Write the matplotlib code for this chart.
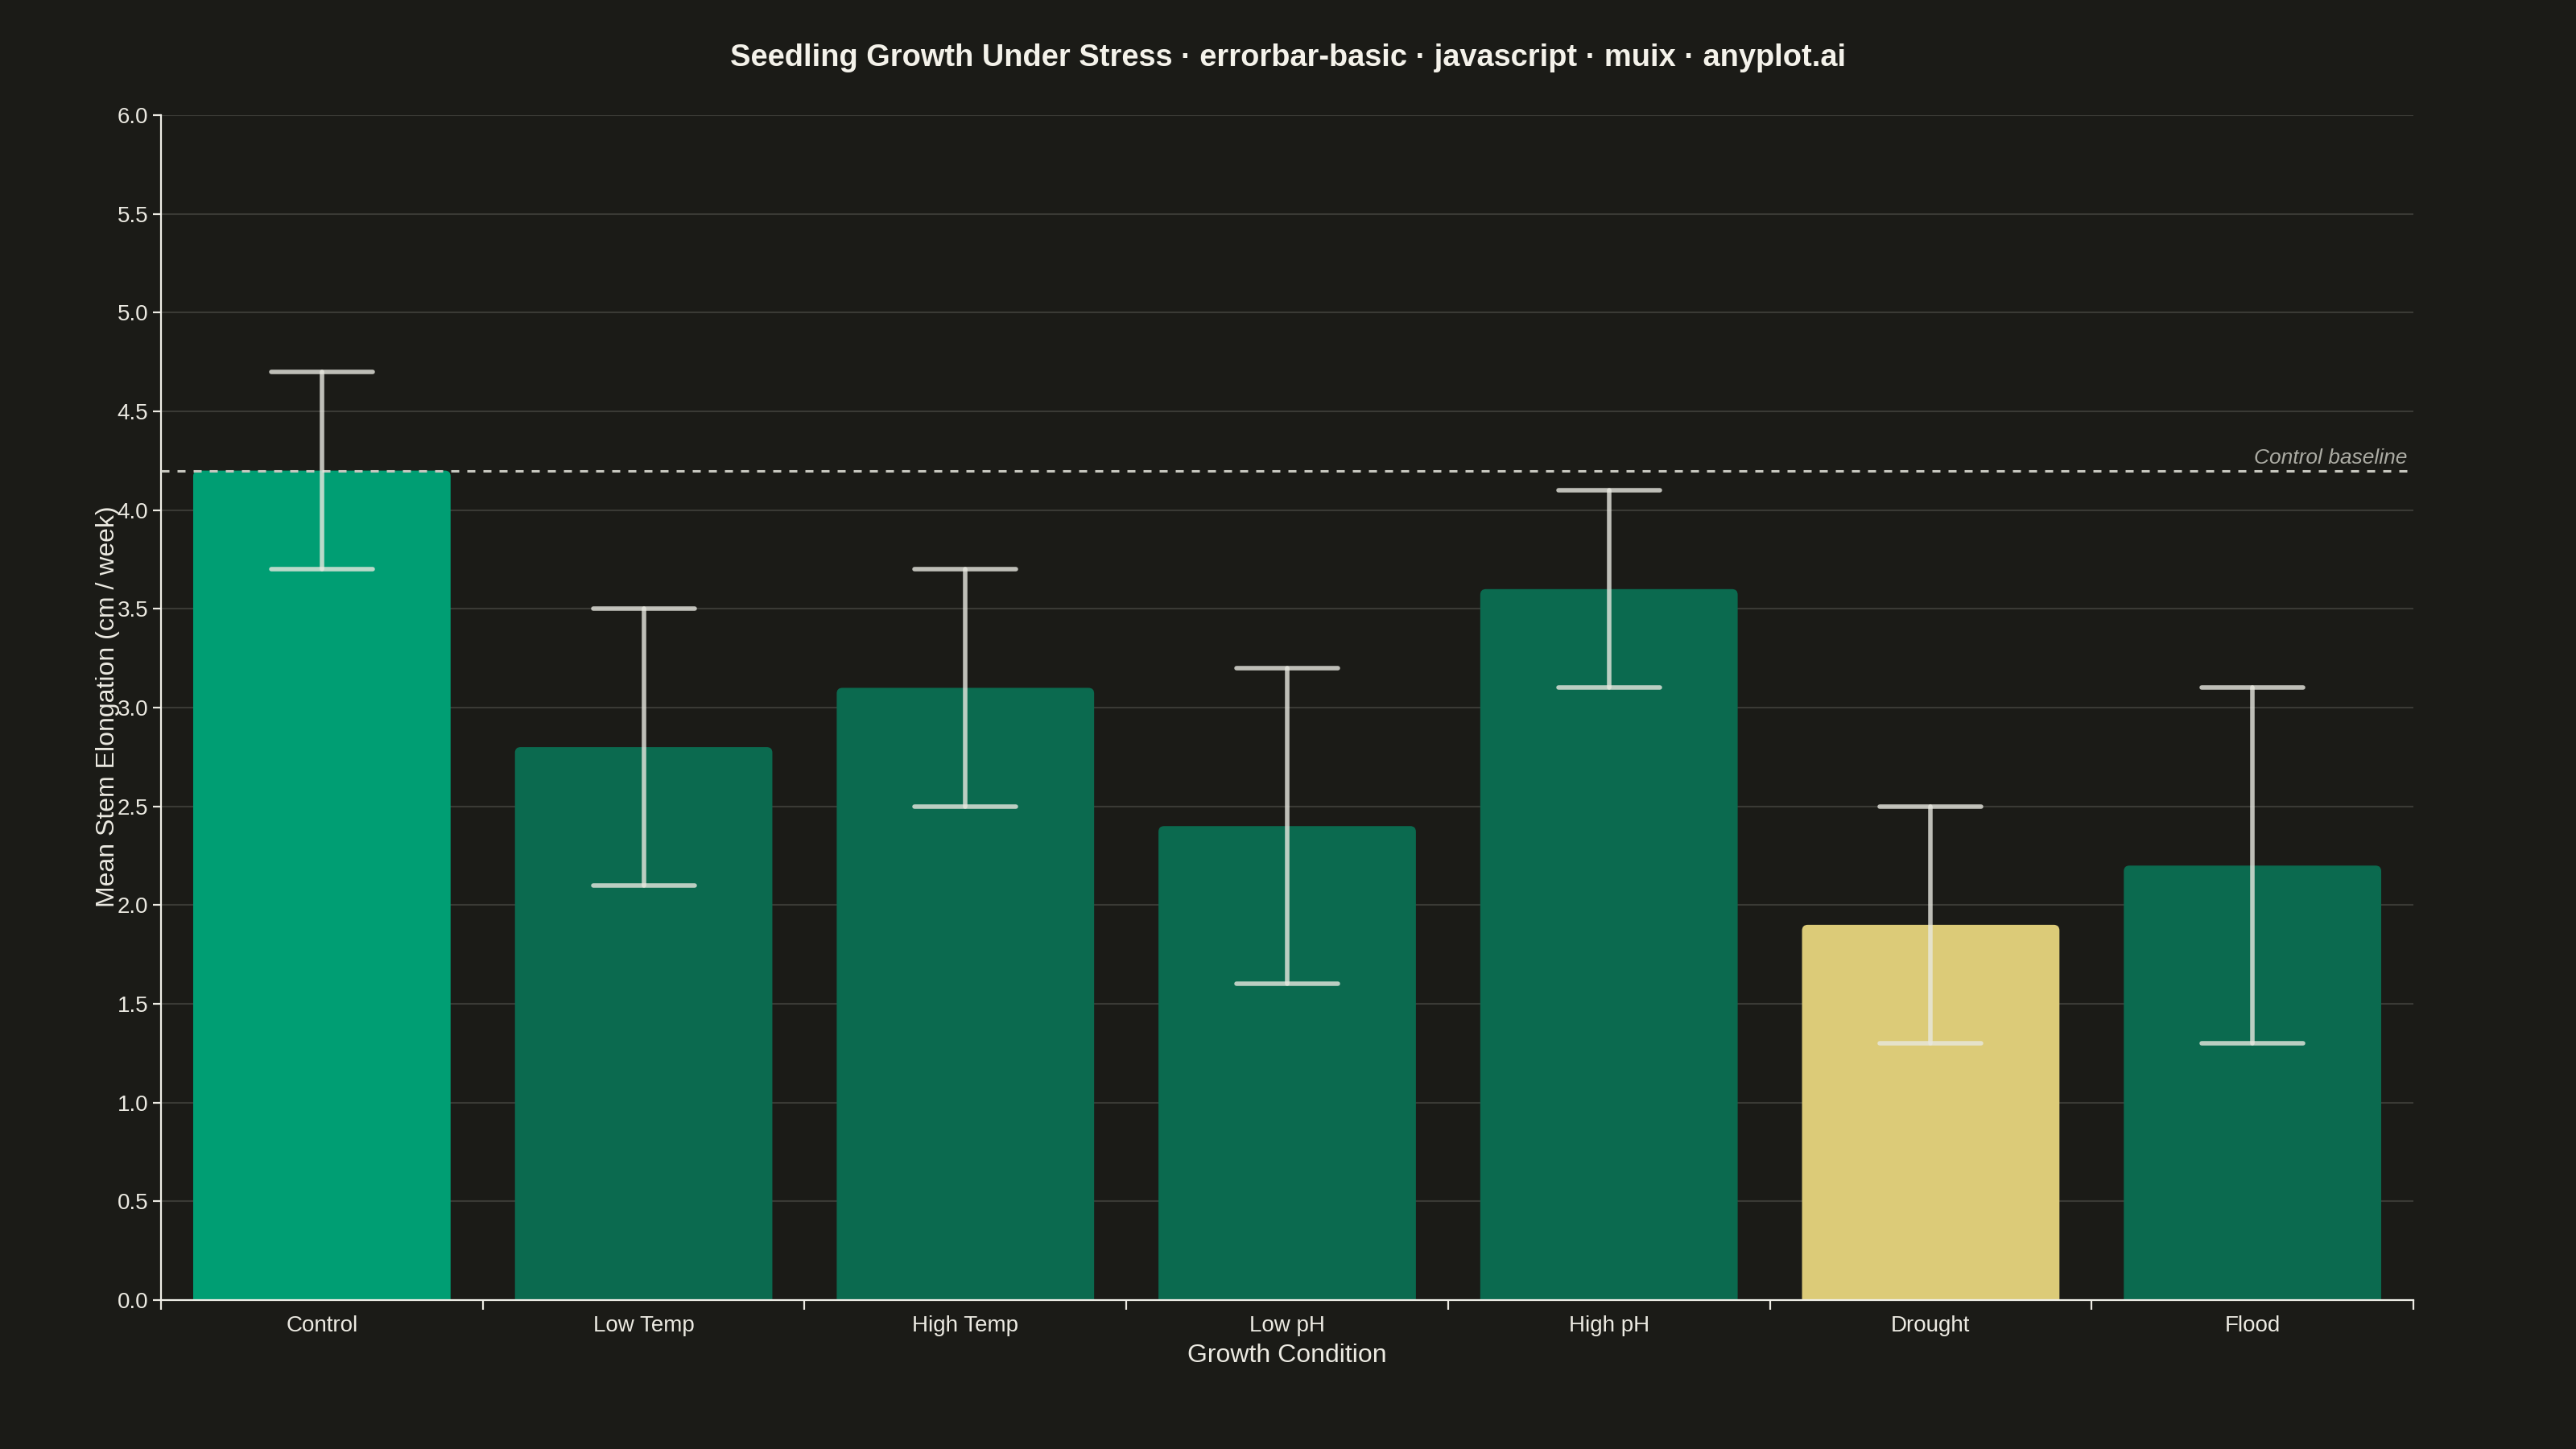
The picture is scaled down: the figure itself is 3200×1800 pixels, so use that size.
import matplotlib
matplotlib.use("Agg")
import matplotlib.pyplot as plt
from matplotlib.patches import FancyBboxPatch
from matplotlib.markers import MarkerStyle
from matplotlib.ticker import FixedLocator, NullFormatter

# ---- data ----
categories = ["Control", "Low Temp", "High Temp", "Low pH", "High pH", "Drought", "Flood"]
means = [4.2, 2.8, 3.1, 2.4, 3.6, 1.9, 2.2]
errors = [0.5, 0.7, 0.6, 0.8, 0.5, 0.6, 0.9]
baseline_value = 4.2
y_ticks = [0.0, 0.5, 1.0, 1.5, 2.0, 2.5, 3.0, 3.5, 4.0, 4.5, 5.0, 5.5, 6.0]
title = "Seedling Growth Under Stress · errorbar-basic · javascript · muix · anyplot.ai"

# ---- style ----
BG = "#1B1B17"
TXT = "#ECEAE2"
GRID = "#3A3A35"
C_CTRL = "#009E73"
C_OTHER = "#0B6A4F"
C_DROUGHT = "#DCCB78"
colors = [C_CTRL, C_OTHER, C_OTHER, C_OTHER, C_OTHER, C_DROUGHT, C_OTHER]

plt.rcParams['font.family'] = ['Liberation Sans', 'DejaVu Sans']
plt.rcParams['lines.scale_dashes'] = False

fig = plt.figure(figsize=(16, 9), dpi=200, facecolor=BG)
ax = fig.add_axes([200/3200, 1-1615/1800, 2798/3200, 1472/1800])
ax.set_facecolor(BG)

x = list(range(len(categories)))
bars = ax.bar(x, means, width=0.8, color=colors, zorder=2)

# rounded top corners: replace rectangles with rounded boxes of same geometry
ppx = 2798 / 7.0       # pixels per x unit
ppy = 1472 / 6.0       # pixels per y unit
r_px = 7.0
rx = r_px / ppx
ry = r_px / ppy
for b in bars:
    bx, bw, bh = b.get_x(), b.get_width(), b.get_height()
    b.set_visible(False)
    p = FancyBboxPatch((bx, -ry * 2), bw, bh + ry * 2,
                       boxstyle=f"round,pad=0,rounding_size={rx}",
                       mutation_aspect=ry / rx,
                       facecolor=b.get_facecolor(), edgecolor='none',
                       zorder=2, clip_on=True)
    ax.add_patch(p)

# error bars
eb = ax.errorbar(x, means, yerr=errors, fmt='none', ecolor='#E8E8E0', alpha=0.8,
                 elinewidth=2.0, capsize=22.7, capthick=2.0, zorder=4)
for cl in eb[1]:
    cl.set_marker(MarkerStyle('_', capstyle='round'))
for lc in eb[2]:
    lc.set_capstyle('round')

# baseline
ax.axhline(baseline_value, color='#C8C8C0', lw=1.1, linestyle=(0, (3.6, 3.6)), zorder=3)
ax.text(6.48, baseline_value + 9 / ppy, "Control baseline", ha='right', va='baseline',
        fontsize=9.5, style='italic', color='#ABABA3', zorder=5)

# axes
ax.set_xlim(-0.5, len(categories) - 0.5)
ax.set_ylim(0, 6)
ax.set_yticks(y_ticks)
ax.set_yticklabels([f"{v:.1f}" for v in y_ticks])
ax.set_xticks(x)
ax.set_xticklabels(categories)
ax.xaxis.set_minor_locator(FixedLocator([i - 0.5 for i in range(len(categories) + 1)]))
ax.xaxis.set_minor_formatter(NullFormatter())
ax.tick_params(axis='x', which='major', length=0, pad=7, labelsize=10, colors=TXT)
ax.tick_params(axis='x', which='minor', length=4.3, width=0.8, color=TXT)
ax.tick_params(axis='y', which='major', length=3.6, width=0.8, pad=2, labelsize=10,
               colors=TXT)
ax.grid(axis='y', color=GRID, lw=0.75, zorder=0)
ax.set_axisbelow(True)
for s in ['top', 'right']:
    ax.spines[s].set_visible(False)
for s in ['left', 'bottom']:
    ax.spines[s].set_color('#F0EFE8')
    ax.spines[s].set_linewidth(0.8)

ax.set_xlabel("Growth Condition", fontsize=11.5, color=TXT, labelpad=3)
fig.text(134/3200, 1-878/1800, "Mean Stem Elongation (cm / week)", rotation=90,
         ha='center', va='center', fontsize=11.5, color=TXT)

fig.text(0.5, 1-82/1800, title, ha='center', va='baseline', fontsize=13.7,
         fontweight='bold', color='#F4F2EA')

fig.savefig("out.png", dpi=200, facecolor=BG)
